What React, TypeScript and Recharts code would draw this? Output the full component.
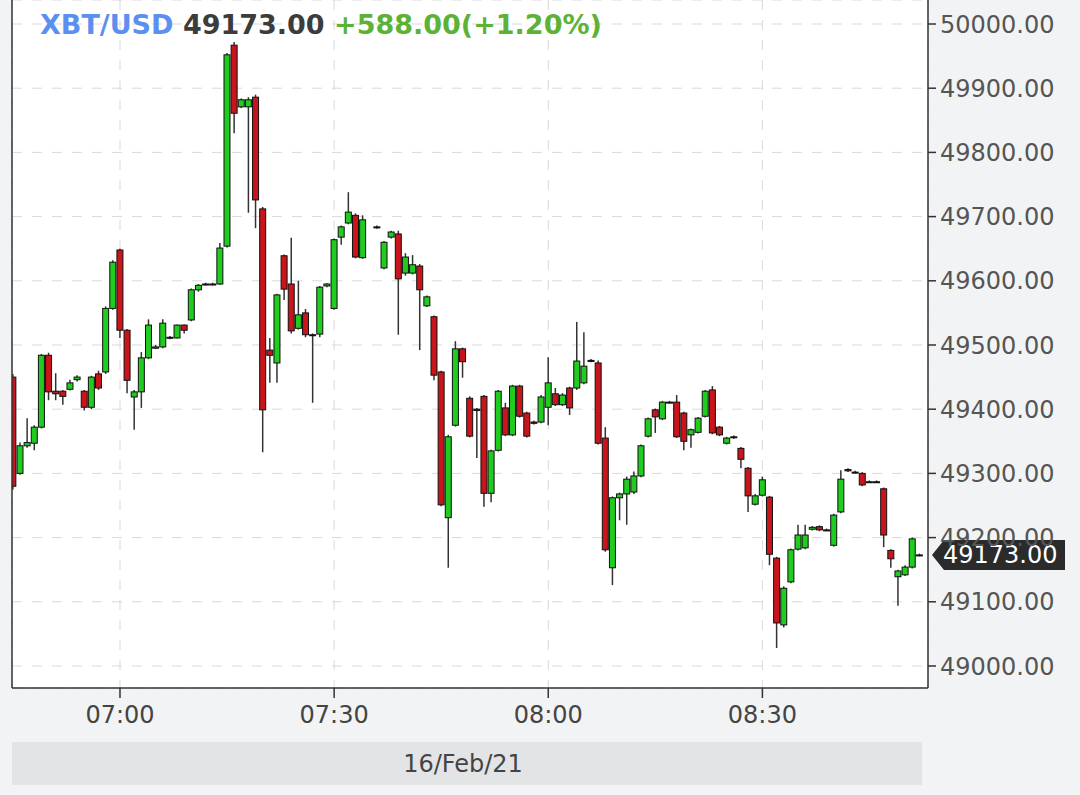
import { ComposedChart, Bar, XAxis, YAxis, CartesianGrid, ReferenceLine } from 'recharts'

// minutes after 06:45 (one-minute candles, 07:35 has no trade)
const minutes = [
  0, 1, 2, 3, 4, 5, 6, 7, 8, 9, 10, 11, 12, 13, 14, 15, 16, 17, 18, 19,
  20, 21, 22, 23, 24, 25, 26, 27, 28, 29, 30, 31, 32, 33, 34, 35, 36, 37, 38, 39,
  40, 41, 42, 43, 44, 45, 46, 47, 48, 49, 51, 52, 53, 54, 55, 56, 57, 58, 59,
  60, 61, 62, 63, 64, 65, 66, 67, 68, 69, 70, 71, 72, 73, 74, 75, 76, 77, 78, 79,
  80, 81, 82, 83, 84, 85, 86, 87, 88, 89, 90, 91, 92, 93, 94, 95, 96, 97, 98, 99,
  100, 101, 102, 103, 104, 105, 106, 107, 108, 109, 110, 111, 112, 113, 114, 115, 116, 117, 118, 119,
  120, 121, 122, 123, 124, 125, 126, 127,
]

const opens = [
  49450, 49300, 49343, 49347, 49372, 49484, 49428, 49428, 49431, 49446, 49428, 49403, 49455, 49458, 49557, 49648, 49523, 49419, 49427, 49480,
  49495, 49497, 49511, 49511, 49531, 49539, 49586, 49594, 49595, 49595, 49654, 49967, 49871, 49871, 49886, 49712, 49492, 49472, 49639, 49595,
  49526, 49550, 49516, 49517, 49592, 49557, 49668, 49690, 49702, 49636, 49684, 49620, 49668, 49673, 49612, 49612, 49623, 49561, 49544,
  49458, 49231, 49375, 49494, 49417, 49400, 49420, 49269, 49336, 49402, 49360, 49436, 49394, 49380, 49380, 49403, 49424, 49407, 49433, 49433,
  49441, 49476, 49472, 49355, 49153, 49262, 49268, 49271, 49296, 49358, 49399, 49385, 49411, 49411, 49394, 49360, 49364, 49389, 49430, 49372,
  49347, 49357, 49339, 49308, 49252, 49266, 49263, 49168, 49064, 49131, 49182, 49184, 49213, 49217, 49212, 49188, 49240, 49306, 49302, 49300,
  49287, 49287, 49276, 49180, 49139, 49142, 49154, 49173,
]

const highs = [
  49455, 49348, 49386, 49375, 49486, 49488, 49456, 49430, 49446, 49453, 49430, 49452, 49460, 49560, 49632, 49650, 49525, 49430, 49489, 49540,
  49500, 49540, 49514, 49532, 49532, 49588, 49595, 49597, 49597, 49659, 49955, 49972, 49884, 49886, 49890, 49715, 49511, 49580, 49641, 49667,
  49600, 49556, 49518, 49592, 49596, 49666, 49686, 49738, 49705, 49702, 49686, 49662, 49678, 49678, 49643, 49640, 49626, 49577, 49546,
  49460, 49360, 49506, 49496, 49420, 49402, 49422, 49337, 49430, 49410, 49438, 49438, 49396, 49382, 49422, 49481, 49433, 49425, 49435, 49536,
  49520, 49478, 49476, 49372, 49264, 49270, 49295, 49303, 49345, 49387, 49401, 49413, 49413, 49422, 49396, 49370, 49388, 49430, 49436, 49374,
  49357, 49359, 49341, 49310, 49268, 49295, 49265, 49170, 49124, 49183, 49220, 49220, 49218, 49219, 49214, 49237, 49305, 49308, 49304, 49302,
  49289, 49289, 49278, 49182, 49150, 49157, 49200, 49175,
]

const lows = [
  49275, 49298, 49340, 49336, 49370, 49414, 49414, 49407, 49429, 49443, 49398, 49400, 49430, 49455, 49555, 49511, 49425, 49368, 49402, 49478,
  49494, 49495, 49509, 49510, 49518, 49537, 49583, 49593, 49593, 49594, 49652, 49830, 49869, 49706, 49682, 49333, 49441, 49441, 49570, 49518,
  49524, 49512, 49410, 49512, 49590, 49555, 49656, 49688, 49635, 49634, 49681, 49618, 49666, 49516, 49608, 49610, 49492, 49559, 49445,
  49249, 49153, 49373, 49449, 49356, 49324, 49248, 49255, 49334, 49358, 49358, 49387, 49356, 49376, 49378, 49375, 49405, 49405, 49391, 49430,
  49439, 49473, 49345, 49178, 49126, 49227, 49220, 49268, 49294, 49356, 49363, 49383, 49409, 49355, 49336, 49340, 49362, 49387, 49361, 49358,
  49345, 49354, 49308, 49240, 49250, 49264, 49157, 49028, 49060, 49129, 49180, 49182, 49211, 49210, 49210, 49186, 49238, 49302, 49300, 49280,
  49285, 49285, 49185, 49153, 49094, 49140, 49152, 49171,
]

const closes = [
  49280, 49343, 49348, 49372, 49484, 49427, 49424, 49420, 49441, 49450, 49403, 49450, 49433, 49557, 49629, 49523, 49445, 49427, 49480, 49531,
  49497, 49534, 49512, 49531, 49523, 49586, 49593, 49595, 49595, 49651, 49952, 49861, 49882, 49882, 49726, 49399, 49484, 49578, 49587, 49522,
  49547, 49516, 49515, 49590, 49595, 49664, 49684, 49707, 49637, 49695, 49683, 49660, 49676, 49603, 49637, 49625, 49586, 49575, 49453,
  49251, 49357, 49494, 49474, 49358, 49398, 49269, 49335, 49428, 49360, 49436, 49389, 49358, 49378, 49419, 49441, 49407, 49422, 49402, 49475,
  49467, 49475, 49347, 49181, 49262, 49268, 49291, 49296, 49343, 49385, 49388, 49411, 49411, 49357, 49350, 49368, 49386, 49428, 49363, 49360,
  49355, 49356, 49322, 49265, 49265, 49290, 49174, 49067, 49121, 49181, 49204, 49204, 49216, 49212, 49212, 49235, 49291, 49304, 49302, 49282,
  49287, 49287, 49204, 49167, 49148, 49154, 49198, 49173,
]

const timeTicks = [15, 45, 75, 105]
const timeLabels = ['07:00', '07:30', '08:00', '08:30']
const priceTicks = [49000, 49100, 49200, 49300, 49400, 49500, 49600, 49700, 49800, 49900, 50000]

const symbol = 'XBT/USD'
const lastPrice = 49173
const change = '+588.00(+1.20%)'
const dateLabel = '16/Feb/21'

const UP = '#1fcc1f'
const DOWN = '#c8141a'
const FONT = 'DejaVu Sans'

const data = minutes.map((t, i) => ({ t, o: opens[i], h: highs[i], l: lows[i], c: closes[i] }))

function Candle(props: any) {
  const { x, y, width, height, payload } = props
  if (!payload) return null
  const { o, h, l, c } = payload
  const ppu = h > l ? height / (h - l) : 0
  const cx = x + width / 2
  const yo = y + (h - o) * ppu
  const yc = y + (h - c) * ppu
  const top = Math.min(yo, yc)
  const bh = Math.max(Math.abs(yo - yc), 1)
  return (
    <g>
      <line x1={cx} x2={cx} y1={y} y2={y + height} stroke="#333" strokeWidth={1.5} />
      <rect x={x + 0.5} y={top} width={width - 1} height={bh} fill={c >= o ? UP : DOWN} stroke="#111" strokeWidth={1} />
    </g>
  )
}

function PriceTag(props: any) {
  const vb = props.viewBox
  if (!vb) return null
  const right = vb.x + vb.width
  const y = vb.y
  return (
    <g>
      <polygon
        points={`${right + 4},${y} ${right + 16},${y - 15} ${right + 137},${y - 15} ${right + 137},${y + 15} ${right + 16},${y + 15}`}
        fill="#2b2b2b"
      />
      <text x={right + 15} y={y} dominantBaseline="central" fill="#fff" fontSize={24} fontFamily={FONT}>
        {lastPrice.toFixed(2)}
      </text>
    </g>
  )
}

function DateBand(props: any) {
  const vb = props.viewBox
  if (!vb) return null
  return (
    <g>
      <rect x={vb.x} y={vb.y + 54} width={vb.width - 6} height={43} fill="#e3e4e5" />
      <text x={vb.x + 451} y={vb.y + 76} textAnchor="middle" dominantBaseline="central" fill="#444" fontSize={24} fontFamily={FONT}>
        {dateLabel}
      </text>
    </g>
  )
}

export default function App() {
  return (
    <div style={{ position: 'absolute', left: 0, top: 0, width: 1080, height: 795, background: '#f2f3f4', fontFamily: FONT }}>
      <ComposedChart width={1080} height={795} data={data} margin={{ top: 0, right: 0, left: 12, bottom: 0 }}>
        <CartesianGrid fill="#fff" stroke="#d9d9d9" strokeDasharray="10 10" />
        <XAxis
          dataKey="t"
          type="number"
          domain={[-0.13, 128.2]}
          allowDataOverflow
          ticks={timeTicks}
          interval={0}
          tickFormatter={(v: number) => timeLabels[timeTicks.indexOf(v)]}
          height={107}
          axisLine={{ stroke: '#333', strokeWidth: 1.5 }}
          tickLine={{ stroke: '#333', strokeWidth: 1.5 }}
          tickSize={10}
          tickMargin={8}
          tick={{ fill: '#444', fontSize: 24, fontFamily: FONT }}
          label={DateBand}
        />
        <YAxis
          orientation="right"
          type="number"
          domain={[48965.7, 50037.4]}
          allowDataOverflow
          ticks={priceTicks}
          interval={0}
          tickFormatter={(v: number) => v.toFixed(2)}
          width={152}
          axisLine={{ stroke: '#333', strokeWidth: 1.5 }}
          tickLine={{ stroke: '#333', strokeWidth: 1.5 }}
          tickSize={8}
          tickMargin={4}
          tick={{ fill: '#555', fontSize: 24, fontFamily: FONT, textAnchor: 'start' }}
        />
        <ReferenceLine x={-0.13} stroke="#333" strokeWidth={1.5} />
        <Bar dataKey={(d: any) => [d.l, d.h]} barSize={7} shape={Candle} isAnimationActive={false} />
        <ReferenceLine y={lastPrice} stroke="none" label={PriceTag} />
      </ComposedChart>
      <div style={{ position: 'absolute', left: 40, top: 9, fontSize: 27, fontWeight: 'bold', fontFamily: FONT, whiteSpace: 'nowrap' }}>
        <span style={{ color: '#5b8ff0' }}>{symbol}</span>{' '}
        <span style={{ color: '#3c3c3c' }}>{lastPrice.toFixed(2)}</span>{' '}
        <span style={{ color: '#5db236' }}>{change}</span>
      </div>
    </div>
  )
}
